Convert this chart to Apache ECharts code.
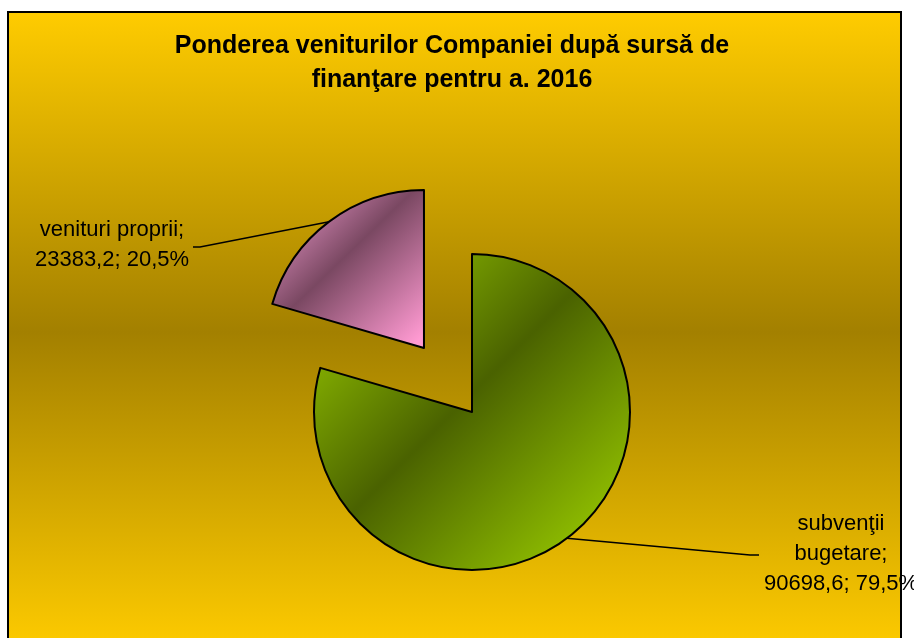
<!DOCTYPE html>
<html>
<head>
<meta charset="utf-8">
<script src="https://cdn.jsdelivr.net/npm/echarts@6/dist/echarts.min.js"></script>
<style>
html, body { margin: 0; padding: 0; background: #fff; }
#main { width: 914px; height: 638px; }
</style>
</head>
<body>
<div id="main"></div>
<script>
var titleText = 'Ponderea veniturilor Companiei după sursă de\nfinanţare pentru a. 2016'
var categories = ['subvenţii\nbugetare', 'venituri proprii']
var values = [90698.6, 23383.2]

var center = [472, 412]
var radius = 158
var explode = 80

var greenFill = new echarts.graphic.LinearGradient(0, 0, 1, 1, [
  { offset: 0.12, color: '#8cba00' },
  { offset: 0.47, color: '#4a6200' },
  { offset: 0.86, color: '#8cba00' }
])
var pinkFill = new echarts.graphic.LinearGradient(0, 0, 1, 1, [
  { offset: 0.1, color: '#e090c0' },
  { offset: 0.45, color: '#7a4862' },
  { offset: 0.95, color: '#ff9ad2' }
])
var fills = [greenFill, pinkFill]

// pink slice is pulled out along its middle angle
var total = values[0] + values[1]
var midAngle = Math.PI / 2 + Math.PI * values[1] / total
var pinkCenter = [center[0] + explode * Math.cos(midAngle), center[1] - explode * Math.sin(midAngle)]

// label boxes and the bends of their leader lines
var labelPos = [[841, 554], [112, 245]]
var linePts = [[[750, 555], [759, 555]], [[200, 247], [193, 247]]]

function makeSeries (idx, c) {
  return {
    type: 'pie',
    center: c,
    radius: radius,
    startAngle: 90,
    clockwise: true,
    percentPrecision: 1,
    emphasis: { disabled: true },
    label: {
      show: true,
      position: 'outside',
      color: '#000',
      fontFamily: 'Liberation Sans',
      fontSize: 22,
      lineHeight: 30,
      align: 'center',
      formatter: function (p) {
        var v = String(p.value).replace('.', ',')
        var pc = String(p.percent).replace('.', ',') + '%'
        return p.name + ';\n' + v + '; ' + pc
      }
    },
    labelLine: {
      show: true,
      lineStyle: { color: '#000', width: 1.5 }
    },
    labelLayout: function (p) {
      if (p.dataIndex !== idx) return {}
      var start = p.labelLinePoints ? p.labelLinePoints[0] : null
      return {
        x: labelPos[idx][0], y: labelPos[idx][1], align: 'center', verticalAlign: 'middle',
        labelLinePoints: start ? [start, linePts[idx][0], linePts[idx][1]] : undefined
      }
    },
    data: categories.map(function (name, i) {
      var on = i === idx
      return {
        name: name,
        value: values[i],
        itemStyle: on
          ? { color: fills[i], borderColor: '#000', borderWidth: 2 }
          : { color: 'rgba(0,0,0,0)', borderWidth: 0 },
        label: { show: on },
        labelLine: { show: on }
      }
    })
  }
}

var myChart = echarts.init(document.getElementById('main'))

var option = {
  animation: false,
  backgroundColor: '#fff',
  graphic: [{
    type: 'rect',
    z: -10,
    silent: true,
    shape: { x: 8, y: 12, width: 893, height: 640 },
    style: {
      fill: new echarts.graphic.LinearGradient(0, 0, 0, 1, [
        { offset: 0, color: '#ffcc00' },
        { offset: 0.5, color: '#a38000' },
        { offset: 1, color: '#ffcc00' }
      ]),
      stroke: '#000',
      lineWidth: 2
    }
  }],
  title: {
    text: titleText,
    left: 447,
    textAlign: 'center',
    top: 24,
    textStyle: {
      fontFamily: 'Liberation Sans',
      fontSize: 25,
      fontWeight: 'bold',
      lineHeight: 34,
      color: '#000'
    }
  },
  series: [makeSeries(0, center), makeSeries(1, pinkCenter)]
}

myChart.setOption(option)
</script>
</body>
</html>
